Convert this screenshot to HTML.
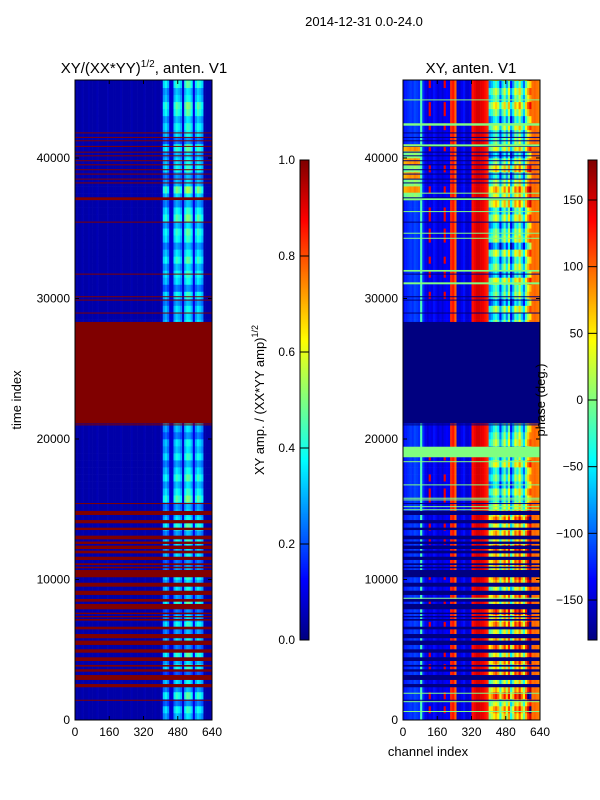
<!DOCTYPE html>
<html><head><meta charset="utf-8"><style>
body{margin:0;background:#fff;}
svg{display:block;font-family:"Liberation Sans",sans-serif;}
</style></head><body>
<svg id="fig" width="600" height="800" viewBox="0 0 600 800">
<rect width="600" height="800" fill="#fff"/>
<text x="364" y="26" font-size="13" text-anchor="middle">2014-12-31 0.0-24.0</text>
<text x="144" y="73" font-size="15" text-anchor="middle">XY/(XX*YY)<tspan font-size="10" dy="-6">1/2</tspan><tspan dy="6">, anten. V1</tspan></text>
<text x="471" y="73" font-size="15" text-anchor="middle">XY, anten. V1</text>
<g id="left"></g>
<g id="right"></g>
<g id="axes"></g>
<text transform="translate(21,400) rotate(-90)" font-size="13" text-anchor="middle">time index</text>
<text x="428" y="756" font-size="13" text-anchor="middle">channel index</text>
<text transform="translate(264,400) rotate(-90)" font-size="13" text-anchor="middle">XY amp. / (XX*YY amp)<tspan font-size="9" dy="-6">1/2</tspan></text>
<text transform="translate(545,400) rotate(-90)" font-size="13" text-anchor="middle">phase (deg.)</text>
</svg>
<script>
const NS='http://www.w3.org/2000/svg';
const tMax=45550, rowStep=500, binW=10;
const ampProfile=[0.04,0.04,0.04,0.05,0.04,0.04,0.05,0.04,0.04,0.04,0.05,0.04,0.04,0.04,0.04,0.05,0.04,0.04,0.04,0.04,0.04,0.05,0.04,0.04,0.04,0.04,0.05,0.04,0.04,0.04,0.04,0.04,0.05,0.04,0.04,0.04,0.04,0.05,0.04,0.04,
0.06,0.28,0.32,0.26,0.08,0.08,0.30,0.36,0.33,0.28,0.08,0.34,0.40,0.38,0.32,0.10,0.30,0.36,0.33,0.28,0.04,0.04,0.04,0.04];
const ampRow=[0.9,1.1,0.7,1.2,0.8,1.0,0.6,1.1,0.9,1.2,0.7,1.0,0.8,1.1,0.9,0.7,1.2,0.8,1.0,0.9,1.1,0.8,0.7,1.0,0.9,1.1,0.8,1.2,1.0,0.9,0.8,1.3,1.1,0.9,1.2,1.0,0.8,1.1,0.9,1.0,0.7,0.9,
1,1,1,1,1,1,1,1,1,1,1,1,1,1,1,
0.9,1.0,0.8,1.1,0.7,1.0,1.1,0.9,1.2,1.0,0.8,1.1,1.2,0.9,1.3,1.1,0.8,1.0,1.4,0.9,0.8,1.1,1.0,0.9,1.2,0.7,1.0,1.1,0.9,1.2,1.3,1.0,0.9,1.2,1.1];
const flagBands=[[1400,1440],[2330,2560],[2850,3200],[3440,3610],[3800,3920],[4200,4460],[4790,5030],[5340,5650],[5820,6120],[6450,6640],[7070,7190],[7310,7400],[7540,7640],[7880,8260],[8420,8610],[8900,9200],[9490,9770],[10160,10680],[10800,10910],[11030,11150],[11390,11620],[11860,12050],[12170,12410],[12530,12700],[12860,13120],[13520,13690],[14000,14230],[14590,14880],[15400,15440],[21000,21040],
[28950,29000],[29870,29920],[30110,30160],[31720,31770],[35420,35470],[37000,37200],[38200,38260],[38480,38530],[38840,38890],[39150,39200],[39500,39550],[39790,39840],[40140,40190],[40400,40450],[40810,40860],[41210,41260],[41450,41500],[41760,41820]];
const gapBand=[21100,28330];
const phaseProfile=[-130,-125,-120,-115,-120,-110,-115,-120,-20,-120,
-140,-150,-140,-145,-130,-140,-150,-140,-150,-140,-135,-140,
120,130,100,-150,-150,-140,-130,-150,-150,-140,
130,140,150,150,145,140,130,120,
-60,-40,-10,10,-20,-90,-30,10,-50,20,-100,-50,20,-10,40,-20,-70,10,60,90,
95,100,95,90];
const phaseShift=[60,90,40,120,70,30,100,60,90,50,110,80,40,100,70,120,60,90,30,80,100,60,90,70,110,50,80,40,100,60,30,-20,20,-40,0,-30,40,-10,-60,20,0,-30,
0,0,0,0,0,0,0,0,0,0,0,0,0,0,0,
-40,20,-60,0,-20,40,-50,10,-30,30,-70,20,0,-40,30,-20,60,40,80,20,-30,60,10,-50,40,0,-20,30,-40,10,50,-10,20,-30,40];
const greenBands=[[590,640],[1300,1340],[1900,1940],[8660,8700],[14950,15000],[15180,15220],[15660,15700],[15780,15820],[16730,16770],[18380,18420],[18700,19450],[31010,31150],[31910,32030],[34280,34320],[34640,34680],[36180,36220],[37010,37130],[37490,37530],[40830,40970],[42300,42470],[44130,44170]];
const ampTicks=['0.0','0.2','0.4','0.6','0.8','1.0'];
const phaseTicks=['-150','-100','-50','0','50','100','150'];
const timeTicks=['0','10000','20000','30000','40000'];
const chanTicks=['0','160','320','480','640'];

function jet(v){v=Math.max(0,Math.min(1,v));
 const f=x=>Math.max(0,Math.min(1,x));
 const r=f(1.5-Math.abs(4*v-3)),g=f(1.5-Math.abs(4*v-2)),b=f(1.5-Math.abs(4*v-1));
 return `rgb(${Math.round(r*255)},${Math.round(g*255)},${Math.round(b*255)})`;}
const panels={left:75,right:403};
const W=137,Y0=720,Y1=80;
const xS=(p,ch)=>panels[p]+ch/640*W;
const yS=t=>Y0-t/tMax*(Y0-Y1);
function rect(g,x,y,w,h,fill,name){const r=document.createElementNS(NS,'rect');
 r.setAttribute('x',x);r.setAttribute('y',y);r.setAttribute('width',w);r.setAttribute('height',h);r.setAttribute('fill',fill);
 
 
 g.appendChild(r);return r;}
const L=document.getElementById('left'),R=document.getElementById('right');
const nRows=Math.ceil(tMax/rowStep);
for(let i=0;i<nRows;i++){
 const t0=i*rowStep,t1=Math.min(tMax,t0+rowStep);
 const y=yS(t1),h=yS(t0)-yS(t1)+0.3;
 const m=ampRow[i]||1, s=phaseShift[i]||0;
 for(let b=0;b<ampProfile.length;b++){
  const p=ampProfile[b];
  const v=p>0.2?p*m:p;
  rect(L,xS('left',b*binW),y,W/64+0.3,h,jet(v),'amp-cell');
  let ph=phaseProfile[b]+(b>=40&&b<60?s:0);
  if((b===12||b===19)&&m>1) ph=140;
  if(b<8 && i>=74 && i<=81) ph+=120+(i%2)*80;
  ph=((ph+180)%360+360)%360-180;
  rect(R,xS('right',b*binW),y,W/64+0.3,h,jet((ph+180)/360),'phase-cell');
 }
}
flagBands.forEach(([a,b])=>{
 rect(L,75,yS(b),W,Math.max(1,yS(a)-yS(b)),jet(1),'flagged-row');
 rect(R,403,yS(b),W,Math.max(1,yS(a)-yS(b)),jet(0),'flagged-row');
});
rect(L,75,yS(gapBand[1]),W,yS(gapBand[0])-yS(gapBand[1]),jet(1),'data-gap');
rect(R,403,yS(gapBand[1]),W,yS(gapBand[0])-yS(gapBand[1]),jet(0),'data-gap');
greenBands.forEach(([a,b])=>{
 rect(R,403,yS(b),W,Math.max(1,yS(a)-yS(b)),jet(0.5),'zero-phase-row');
});
const A=document.getElementById('axes');
function line(x1,y1,x2,y2,name){const l=document.createElementNS(NS,'line');
 l.setAttribute('x1',x1);l.setAttribute('y1',y1);l.setAttribute('x2',x2);l.setAttribute('y2',y2);l.setAttribute('stroke','#000');
 
 
 A.appendChild(l);}
function text(x,y,s,anchor,name){const t=document.createElementNS(NS,'text');
 t.setAttribute('x',x);t.setAttribute('y',y);t.setAttribute('font-size','12');t.setAttribute('text-anchor',anchor);t.textContent=s;
 
 
 A.appendChild(t);}
['left','right'].forEach(p=>{
 const x0=panels[p];
 const fr=rect(A,x0,80,W,640,'none','plot-frame');fr.setAttribute('stroke','#000');
 timeTicks.forEach(s=>{const y=yS(+s);line(x0,y,x0+4,y,'y-tick');line(x0+W,y,x0+W-4,y,'y-tick');text(x0-5,y+4,s,'end','y-tick-label');});
 chanTicks.forEach(s=>{const x=xS(p,+s);line(x,720,x,716,'x-tick');line(x,80,x,84,'x-tick');text(x,736,s,'middle','x-tick-label');});
});
function cbar(x0,ticks,vmin,vmax,name){
 const g=document.createElementNS(NS,'g');A.appendChild(g);
 for(let i=0;i<240;i++){rect(g,x0,640-(i+1)*2,9,2.3,jet((i+0.5)/240),'colorbar-step');}
 const fr=rect(g,x0,160,9,480,'none','colorbar-frame');fr.setAttribute('stroke','#000');
 ticks.forEach(s=>{const y=640-(+s-vmin)/(vmax-vmin)*480;line(x0,y,x0+9,y,'colorbar-tick');text(x0-5,y+4,s.replace('-','\u2212'),'end','colorbar-tick-label');});
}
cbar(300,ampTicks,0,1,'amp-colorbar');
cbar(588,phaseTicks,-180,180,'phase-colorbar');
</script>
</body></html>
